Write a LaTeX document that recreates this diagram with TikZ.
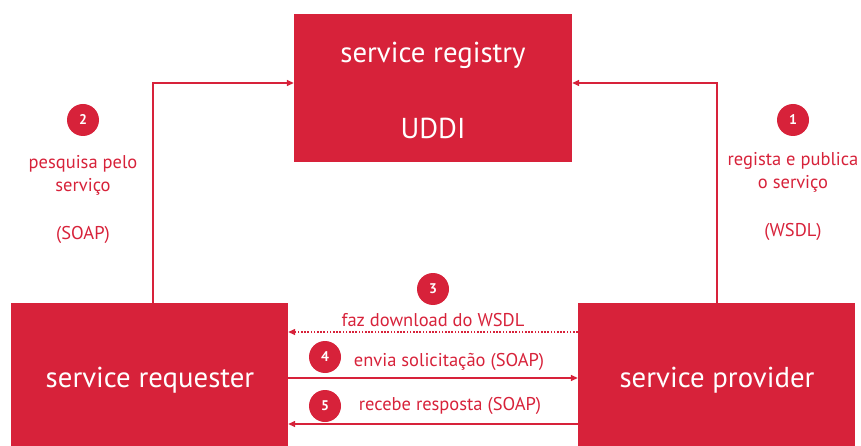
\documentclass[tikz,border=0pt]{standalone}
\usepackage{fontspec}
\setmainfont{PT Sans}
\usetikzlibrary{arrows.meta}
\definecolor{crimson}{HTML}{D7223A}
\tikzset{
  block/.style={fill=crimson, draw=none, inner sep=0pt},
  blocktext/.style={text=white, font=\fontsize{28.8}{34}\selectfont, inner sep=0pt},
  conn/.style={draw=crimson, line width=1.4pt, -{Triangle[length=7pt,width=6pt]}},
  badge/.style={circle, fill=crimson, minimum size=32pt, inner sep=0pt,
    text=white, font=\fontsize{14}{16}\selectfont\bfseries},
  note/.style={text=crimson, font=\fontsize{18.5}{23}\selectfont, inner sep=0pt, align=center},
}
\begin{document}
\begin{tikzpicture}[x=1pt,y=-1pt]
\useasboundingbox (0,0) rectangle (861,446);

% the three parties
\node[block, minimum width=278pt, minimum height=148pt] (reg) at (433,88) {};
\node[block, minimum width=277pt, minimum height=143pt] (req) at (149.5,374.5) {};
\node[block, minimum width=277pt, minimum height=143pt] (prov) at (716.5,374.5) {};

\node[blocktext] (regtitle) at (433,55) {service registry};
\node[blocktext] (reguddi) at (433,128) {UDDI};
\node[blocktext] (reqtitle) at (150,380) {service requester};
\node[blocktext] (provtitle) at (717,380) {service provider};

% lookup and publication paths to the registry
\coordinate (lbend) at (153,83);
\coordinate (rbend) at (717,83);
\draw[conn] (lbend |- req.north) -- (lbend) -- (lbend -| reg.west);
\draw[conn] (rbend |- prov.north) -- (rbend) -- (rbend -| reg.east);

% direct exchange between requester and provider
\coordinate (y3) at (0,332);
\coordinate (y4) at (0,378);
\coordinate (y5) at (0,424);
\draw[conn, dash pattern=on 1.6pt off 1.6pt] (prov.west |- y3) -- (req.east |- y3);
\draw[conn] (req.east |- y4) -- (prov.west |- y4);
\draw[conn] (prov.west |- y5) -- (req.east |- y5);

% numbered steps
\node[badge] (b1) at (793,120) {1};
\node[note] (t1) at (793,172) {regista e publica\\o serviço};
\node[note] (w1) at (793,232) {(WSDL)};

\node[badge] (b2) at (83,120) {2};
\node[note] (t2) at (83,175) {pesquisa pelo\\serviço};
\node[note] (s2) at (83,235) {(SOAP)};

\node[badge] (b3) at (433,289) {3};
\node[note] (t3) at (433,320) {faz download do WSDL};

\node[badge] (b4) at (325,357) {4};
\node[note] (t4) at (449,362) {envia solicitação (SOAP)};

\node[badge] (b5) at (325,406) {5};
\node[note] (t5) at (450,406) {recebe resposta (SOAP)};
\end{tikzpicture}
\end{document}
